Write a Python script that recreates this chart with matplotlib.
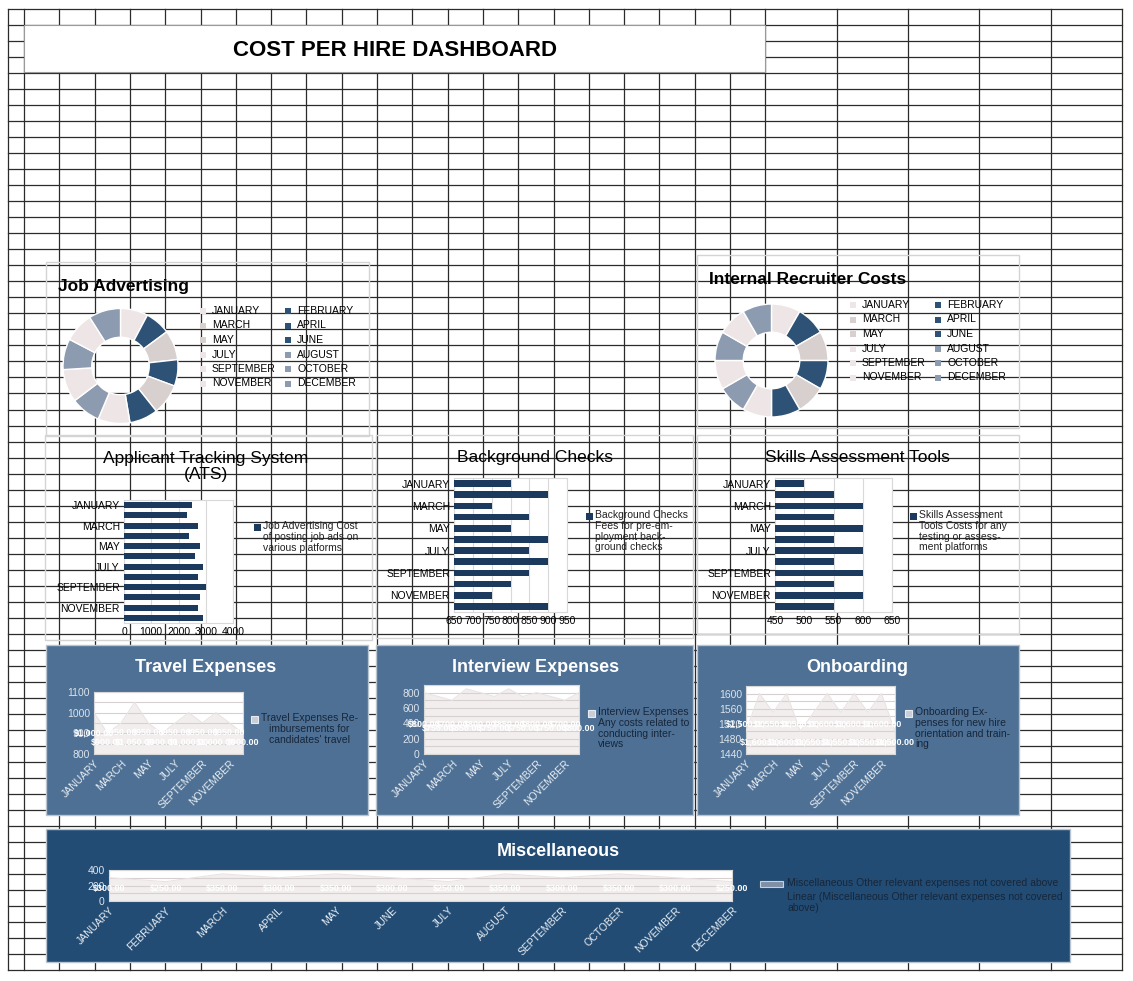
import matplotlib
matplotlib.use('Agg')
import matplotlib.pyplot as plt
from matplotlib.patches import Rectangle
import matplotlib.transforms as mtransforms
import numpy as np

plt.rcParams['font.family'] = ['Liberation Sans', 'DejaVu Sans']

# ---------------- data ----------------
months = ['JANUARY', 'FEBRUARY', 'MARCH', 'APRIL', 'MAY', 'JUNE', 'JULY',
          'AUGUST', 'SEPTEMBER', 'OCTOBER', 'NOVEMBER', 'DECEMBER']
job_advertising = [2500, 2300, 2700, 2400, 2800, 2600, 2900, 2700, 3000, 2800, 2700, 2900]
internal_recruiter = [4000, 4000, 4000, 4000, 4000, 4000, 4000, 4000, 4000, 4000, 4000, 4000]
ats_costs = [2500, 2300, 2700, 2400, 2800, 2600, 2900, 2700, 3000, 2800, 2700, 2900]
background_checks = [800, 900, 750, 850, 800, 900, 850, 900, 850, 800, 750, 900]
skills_tools = [500, 550, 600, 550, 600, 550, 600, 550, 600, 550, 600, 550]
travel = [1000, 900, 950, 1050, 950, 900, 950, 1000, 950, 1000, 950, 900]
interview = [800, 750, 700, 850, 800, 750, 850, 750, 800, 750, 700, 800]
onboarding = [1500, 1600, 1550, 1600, 1500, 1550, 1600, 1550, 1600, 1550, 1600, 1500]
miscellaneous = [300, 250, 350, 300, 350, 300, 250, 350, 300, 350, 300, 250]

donut_colors = ['#EEE6E6', '#2D5275', '#D8CFCF', '#2D5275', '#D8CFCF', '#2D5275',
                '#EEE6E6', '#8D9BB0', '#EEE6E6', '#8D9BB0', '#EEE6E6', '#8D9BB0']

W, H = 1133, 981
fig = plt.figure(figsize=(W / 100, H / 100), dpi=100)
fig.patch.set_facecolor('white')

bg = fig.add_axes([0, 0, 1, 1])
bg.set_xlim(0, W)
bg.set_ylim(H, 0)
bg.axis('off')


def add_ax(x0, y0, x1, y1):
    return fig.add_axes([x0 / W, 1 - y1 / H, (x1 - x0) / W, (y1 - y0) / H])


# ---------------- spreadsheet grid ----------------
GRID = '#2b2b2b'
ys = [9 + 16.02 * k for k in range(61)]
xs = [8, 24] + [24 + 35.3 * k for k in range(1, 22)] + [836.6, 908, 979.4, 1050.8, 1122]
for y in ys:
    bg.plot([8, 1122], [y, y], color=GRID, lw=0.9, zorder=1)
for x in xs:
    bg.plot([x, x], [9, ys[-1]], color=GRID, lw=0.9, zorder=1)

# title box
bg.add_patch(Rectangle((24, 25), 741, 47, facecolor='white', edgecolor='#9a9a9a', lw=0.8, zorder=3))
bg.text(395, 50, 'COST PER HIRE DASHBOARD', fontsize=16, fontweight='heavy',
        ha='center', va='center', zorder=4)

# ---------------- panels ----------------
def panel(x0, y0, x1, y1, fc='none', ec='#D4D4D4'):
    bg.add_patch(Rectangle((x0, y0), x1 - x0, y1 - y0, facecolor=fc, edgecolor=ec, lw=1.0, zorder=2))

panel(46, 262, 369, 436)
panel(697, 255, 1019, 428)
panel(45, 435, 372, 640)
panel(376, 435, 693, 638)
panel(697, 435, 1019, 634)
BLUE = '#4D7094'
DARK = '#224C74'
panel(46, 645, 368, 815, fc=BLUE, ec='#B8C4D0')
panel(376, 645, 693, 815, fc=BLUE, ec='#B8C4D0')
panel(697, 645, 1019, 815, fc=BLUE, ec='#B8C4D0')
panel(46, 829, 1070, 962, fc=DARK, ec='#B8C4D0')

# ---------------- donuts ----------------
def donut(cx, cy, r, vals, title, tx, ty, leg_x1, leg_x2, leg_y0):
    ax = add_ax(cx - r, cy - r, cx + r, cy + r)
    ax.pie(vals, colors=donut_colors, startangle=90, counterclock=False,
           wedgeprops=dict(width=0.5, edgecolor='white', linewidth=1.0))
    ax.set_xlim(-1, 1)
    ax.set_ylim(-1, 1)
    bg.text(tx, ty, title, fontsize=12.5, fontweight='bold', ha='left', va='center', zorder=4)
    for i, m in enumerate(months):
        row, col = divmod(i, 2)
        mx = leg_x1 if col == 0 else leg_x2
        my = leg_y0 + row * 14.5
        bg.add_patch(Rectangle((mx - 3, my - 3), 6, 6, facecolor=donut_colors[i], edgecolor='none', zorder=4))
        bg.text(mx + 9, my, m, fontsize=7.5, ha='left', va='center', zorder=4)

donut(120.5, 366, 57.5, job_advertising, 'Job Advertising', 58, 286, 203, 288, 311)
donut(771.5, 360.5, 56.5, internal_recruiter, 'Internal Recruiter Costs', 709, 280, 853, 938, 305)

# ---------------- bar charts ----------------
NAVY = '#1C3A5E'

def barchart(box, vals, xlim, xticks, title, tcx, tcy, lmx, lmy, ltext):
    ax = add_ax(*box)
    ax.barh(np.arange(12), vals, height=0.6, color=NAVY, zorder=3)
    ax.set_ylim(11.5, -0.5)
    ax.set_xlim(*xlim)
    ax.set_xticks(xticks)
    ax.set_xticklabels([str(t) for t in xticks])
    ax.set_yticks(range(0, 12, 2))
    ax.set_yticklabels(months[::2])
    ax.tick_params(length=0, labelsize=7.5, pad=3)
    ax.grid(axis='x', color='#D9D9D9', lw=0.8, zorder=0)
    ax.set_axisbelow(True)
    ax.set_facecolor('white')
    for s in ax.spines.values():
        s.set_color('#D9D9D9')
        s.set_linewidth(0.8)
    bg.text(tcx, tcy, title, fontsize=12.5, ha='center', va='top', linespacing=1.05, zorder=4)
    bg.add_patch(Rectangle((lmx - 3.5, lmy - 3.5), 7, 7, facecolor=NAVY, edgecolor='none', zorder=4))
    bg.text(lmx + 6, lmy - 6, ltext, fontsize=7.5, ha='left', va='top', linespacing=1.1,
            color='#222222', zorder=4)

barchart((124, 500, 233, 623), ats_costs, (0, 4000), [0, 1000, 2000, 3000, 4000],
         'Applicant Tracking System\n(ATS)', 206, 451, 257, 527,
         'Job Advertising Cost\nof posting job ads on\nvarious platforms')
barchart((454, 478, 567, 612), background_checks, (650, 950), [650, 700, 750, 800, 850, 900, 950],
         'Background Checks', 535, 450, 589, 516,
         'Background Checks\nFees for pre-em-\nployment back-\nground checks')
barchart((775, 478, 892, 612), skills_tools, (450, 650), [450, 500, 550, 600, 650],
         'Skills Assessment Tools', 857, 450, 913, 516,
         'Skills Assessment\nTools Costs for any\ntesting or assess-\nment platforms')

# ---------------- area charts ----------------
def areachart(box, vals, ylim, majors, minor_step, title, tcx, tcy, label_rows,
              lmx, lmy, ltext, all_months=False, mc='#C9CDD6', mwide=False, align='left'):
    ax = add_ax(*box)
    x = np.arange(12)
    ax.set_facecolor('white')
    ax.fill_between(x, vals, ylim[0], color='#F3EEEE', zorder=2, lw=0)
    ax.plot(x, vals, color='#EAE3E3', lw=0.8, zorder=3)
    ax.set_xlim(0, 11)
    ax.set_ylim(*ylim)
    ax.set_yticks(majors)
    ax.set_yticklabels([str(v) for v in majors])
    for gy in np.arange(ylim[0], ylim[1] + 0.1, minor_step):
        ax.axhline(gy, color='#D6D0D0', lw=0.8, zorder=2.5)
    if all_months:
        ax.set_xticks(x)
        ax.set_xticklabels(months)
    else:
        ax.set_xticks(x[::2])
        ax.set_xticklabels(months[::2])
    for lab in ax.get_xticklabels():
        lab.set_rotation(45)
        lab.set_ha('right')
        lab.set_rotation_mode('anchor')
    ax.tick_params(axis='x', length=0, labelsize=7.5, labelcolor='#E8EDF3', pad=3)
    ax.tick_params(axis='y', which='both', length=0, labelsize=7.5, labelcolor='#DCE3EC', pad=3)
    for s in ax.spines.values():
        s.set_color('#D8D8D8')
        s.set_linewidth(0.8)
    trans = mtransforms.blended_transform_factory(ax.transData, ax.transAxes)
    for i, v in enumerate(vals):
        ax.text(i, label_rows[i % len(label_rows)], f"${v:,.2f}", transform=trans, ha='center',
                va='center', color='white', fontsize=6.5, fontweight='bold', clip_on=False, zorder=5)
    bg.text(tcx, tcy, title, fontsize=13, fontweight='bold', color='white', ha='center',
            va='center', zorder=4)
    if mwide:
        bg.add_patch(Rectangle((lmx, lmy - 3), 23, 6, facecolor='#7F8FA6', edgecolor='#C8D0DA', lw=0.8, zorder=4))
        tx = lmx + 27
    else:
        bg.add_patch(Rectangle((lmx - 3.5, lmy - 3.5), 7, 7, facecolor=mc, edgecolor='#E8ECF0', lw=0.8, zorder=4))
        tx = lmx + 7
    bg.text(tx, lmy - 6, ltext, fontsize=7.5, ha='left', va='top', linespacing=1.1,
            multialignment=align, color='#17263A', zorder=4)
    return ax

areachart((94, 692, 243, 754), travel, (800, 1100), [800, 900, 1000, 1100], 50,
          'Travel Expenses', 206, 668, [0.34, 0.19], 254, 719,
          'Travel Expenses Re-\nimbursements for\ncandidates\' travel', align='center')
areachart((424, 685, 579, 754), interview, (0, 900), [0, 200, 400, 600, 800], 100,
          'Interview Expenses', 536, 668, [0.43, 0.37], 591, 713,
          'Interview Expenses\nAny costs related to\nconducting inter-\nviews')
areachart((746, 686, 895, 754), onboarding, (1440, 1620), [1440, 1480, 1520, 1560, 1600], 20,
          'Onboarding', 857, 668, [0.44, 0.18], 908, 713,
          'Onboarding Ex-\npenses for new hire\norientation and train-\ning')
areachart((109, 870, 732, 901), miscellaneous, (0, 400), [0, 200, 400], 100,
          'Miscellaneous', 558, 852, [0.4], 760, 884,
          'Miscellaneous Other relevant expenses not covered above', all_months=True, mwide=True)
bg.text(787, 892, 'Linear (Miscellaneous Other relevant expenses not covered\nabove)',
        fontsize=7.5, ha='left', va='top', linespacing=1.1, color='#17263A', zorder=4)

fig.savefig('out.png', dpi=100)
